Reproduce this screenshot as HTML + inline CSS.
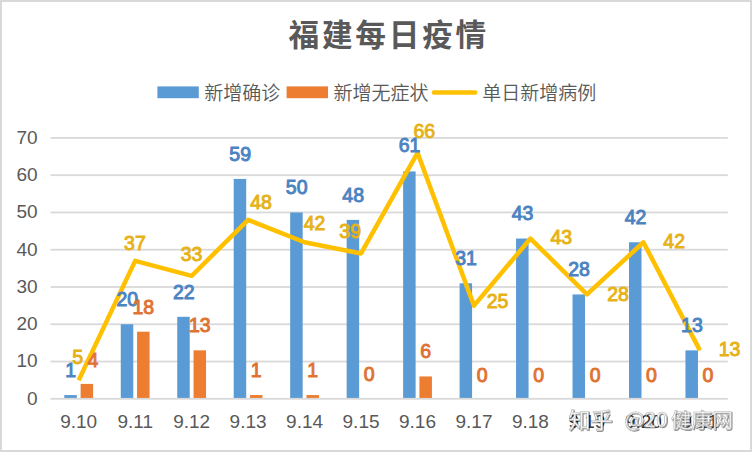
<!DOCTYPE html><html><head><meta charset="utf-8"><style>html,body{margin:0;padding:0;background:#fff}svg{display:block}.t{font-family:"Liberation Sans","Noto Sans CJK SC",sans-serif}</style></head><body>
<svg width="752" height="452" viewBox="0 0 752 452">
<rect x="0" y="0" width="752" height="452" fill="#fff"/>
<rect x="1" y="1" width="750" height="450" fill="none" stroke="#D9D9D9" stroke-width="2"/>
<text class="t" x="288.6" y="45.7" font-size="30.7" letter-spacing="2.7" font-weight="bold" fill="#595959">福建每日疫情</text>
<rect x="157.4" y="86.4" width="41.4" height="11.8" fill="#5B9BD5"/>
<text class="t" x="204.3" y="100.4" font-size="19" font-weight="350" fill="#595959">新增确诊</text>
<rect x="286.6" y="86.4" width="41.4" height="11.8" fill="#ED7D31"/>
<text class="t" x="333.5" y="100.4" font-size="19" font-weight="350" fill="#595959">新增无症状</text>
<line x1="434" y1="92.4" x2="475.2" y2="92.4" stroke="#FFC000" stroke-width="4.5" stroke-linecap="round"/>
<text class="t" x="482.3" y="100.4" font-size="19" font-weight="350" fill="#595959">单日新增病例</text>
<rect x="50.5" y="360.63" width="677.3" height="1.8" fill="#D9D9D9"/>
<rect x="50.5" y="323.36" width="677.3" height="1.8" fill="#D9D9D9"/>
<rect x="50.5" y="286.09" width="677.3" height="1.8" fill="#D9D9D9"/>
<rect x="50.5" y="248.82" width="677.3" height="1.8" fill="#D9D9D9"/>
<rect x="50.5" y="211.55" width="677.3" height="1.8" fill="#D9D9D9"/>
<rect x="50.5" y="174.28" width="677.3" height="1.8" fill="#D9D9D9"/>
<rect x="50.5" y="137.01" width="677.3" height="1.8" fill="#D9D9D9"/>
<text class="t" x="37.6" y="404.70" text-anchor="end" font-size="19" fill="#595959">0</text>
<text class="t" x="37.6" y="367.43" text-anchor="end" font-size="19" fill="#595959">10</text>
<text class="t" x="37.6" y="330.16" text-anchor="end" font-size="19" fill="#595959">20</text>
<text class="t" x="37.6" y="292.89" text-anchor="end" font-size="19" fill="#595959">30</text>
<text class="t" x="37.6" y="255.62" text-anchor="end" font-size="19" fill="#595959">40</text>
<text class="t" x="37.6" y="218.35" text-anchor="end" font-size="19" fill="#595959">50</text>
<text class="t" x="37.6" y="181.08" text-anchor="end" font-size="19" fill="#595959">60</text>
<text class="t" x="37.6" y="143.81" text-anchor="end" font-size="19" fill="#595959">70</text>
<rect x="64.30" y="395.07" width="12.5" height="3.73" fill="#5B9BD5"/>
<rect x="80.60" y="383.89" width="12.5" height="14.91" fill="#ED7D31"/>
<rect x="120.77" y="324.26" width="12.5" height="74.54" fill="#5B9BD5"/>
<rect x="137.07" y="331.71" width="12.5" height="67.09" fill="#ED7D31"/>
<rect x="177.24" y="316.81" width="12.5" height="81.99" fill="#5B9BD5"/>
<rect x="193.54" y="350.35" width="12.5" height="48.45" fill="#ED7D31"/>
<rect x="233.71" y="178.91" width="12.5" height="219.89" fill="#5B9BD5"/>
<rect x="250.01" y="395.07" width="12.5" height="3.73" fill="#ED7D31"/>
<rect x="290.18" y="212.45" width="12.5" height="186.35" fill="#5B9BD5"/>
<rect x="306.48" y="395.07" width="12.5" height="3.73" fill="#ED7D31"/>
<rect x="346.65" y="219.90" width="12.5" height="178.90" fill="#5B9BD5"/>
<rect x="403.12" y="171.45" width="12.5" height="227.35" fill="#5B9BD5"/>
<rect x="419.42" y="376.44" width="12.5" height="22.36" fill="#ED7D31"/>
<rect x="459.59" y="283.26" width="12.5" height="115.54" fill="#5B9BD5"/>
<rect x="516.06" y="238.54" width="12.5" height="160.26" fill="#5B9BD5"/>
<rect x="572.53" y="294.44" width="12.5" height="104.36" fill="#5B9BD5"/>
<rect x="629.00" y="242.27" width="12.5" height="156.53" fill="#5B9BD5"/>
<rect x="685.47" y="350.35" width="12.5" height="48.45" fill="#5B9BD5"/>
<rect x="50.5" y="397.90" width="677.3" height="1.8" fill="#D9D9D9"/>
<text class="t" x="78.70" y="427.6" text-anchor="middle" font-size="19" fill="#595959">9.10</text>
<text class="t" x="135.17" y="427.6" text-anchor="middle" font-size="19" fill="#595959">9.11</text>
<text class="t" x="191.64" y="427.6" text-anchor="middle" font-size="19" fill="#595959">9.12</text>
<text class="t" x="248.11" y="427.6" text-anchor="middle" font-size="19" fill="#595959">9.13</text>
<text class="t" x="304.58" y="427.6" text-anchor="middle" font-size="19" fill="#595959">9.14</text>
<text class="t" x="361.05" y="427.6" text-anchor="middle" font-size="19" fill="#595959">9.15</text>
<text class="t" x="417.52" y="427.6" text-anchor="middle" font-size="19" fill="#595959">9.16</text>
<text class="t" x="473.99" y="427.6" text-anchor="middle" font-size="19" fill="#595959">9.17</text>
<text class="t" x="530.46" y="427.6" text-anchor="middle" font-size="19" fill="#595959">9.18</text>
<text class="t" x="586.93" y="427.6" text-anchor="middle" font-size="19" fill="#3a3a3a">9.19</text>
<text class="t" x="643.40" y="427.6" text-anchor="middle" font-size="19" fill="#3a3a3a">9.20</text>
<text class="t" x="699.87" y="427.6" text-anchor="middle" font-size="19" fill="#3a3a3a">9.21</text>
<polyline points="78.70,380.17 135.17,260.90 191.64,275.81 248.11,219.90 304.58,242.27 361.05,253.45 417.52,152.82 473.99,305.62 530.46,238.54 586.93,294.44 643.40,242.27 699.87,350.35" fill="none" stroke="#FFC000" stroke-width="4.5" stroke-linejoin="round" stroke-linecap="butt"/>
<text class="t" x="70.80" y="376.70" text-anchor="middle" font-size="19.5" fill="#4C83C2" stroke="#4C83C2" stroke-width="0.95">1</text>
<text class="t" x="93.00" y="367.40" text-anchor="middle" font-size="19.5" fill="#DF7333" stroke="#DF7333" stroke-width="0.95">4</text>
<text class="t" x="77.60" y="364.00" text-anchor="middle" font-size="19.5" fill="#E6B218" stroke="#E6B218" stroke-width="0.95">5</text>
<text class="t" x="127.27" y="306.40" text-anchor="middle" font-size="19.5" fill="#4C83C2" stroke="#4C83C2" stroke-width="0.95">20</text>
<text class="t" x="143.32" y="314.00" text-anchor="middle" font-size="19.5" fill="#DF7333" stroke="#DF7333" stroke-width="0.95">18</text>
<text class="t" x="134.90" y="249.90" text-anchor="middle" font-size="19.5" fill="#E6B218" stroke="#E6B218" stroke-width="0.95">37</text>
<text class="t" x="183.74" y="299.20" text-anchor="middle" font-size="19.5" fill="#4C83C2" stroke="#4C83C2" stroke-width="0.95">22</text>
<text class="t" x="199.79" y="332.30" text-anchor="middle" font-size="19.5" fill="#DF7333" stroke="#DF7333" stroke-width="0.95">13</text>
<text class="t" x="191.50" y="260.60" text-anchor="middle" font-size="19.5" fill="#E6B218" stroke="#E6B218" stroke-width="0.95">33</text>
<text class="t" x="240.21" y="160.50" text-anchor="middle" font-size="19.5" fill="#4C83C2" stroke="#4C83C2" stroke-width="0.95">59</text>
<text class="t" x="256.26" y="377.40" text-anchor="middle" font-size="19.5" fill="#DF7333" stroke="#DF7333" stroke-width="0.95">1</text>
<text class="t" x="261.00" y="208.60" text-anchor="middle" font-size="19.5" fill="#E6B218" stroke="#E6B218" stroke-width="0.95">48</text>
<text class="t" x="296.68" y="194.30" text-anchor="middle" font-size="19.5" fill="#4C83C2" stroke="#4C83C2" stroke-width="0.95">50</text>
<text class="t" x="312.73" y="377.40" text-anchor="middle" font-size="19.5" fill="#DF7333" stroke="#DF7333" stroke-width="0.95">1</text>
<text class="t" x="314.60" y="230.40" text-anchor="middle" font-size="19.5" fill="#E6B218" stroke="#E6B218" stroke-width="0.95">42</text>
<text class="t" x="353.15" y="202.30" text-anchor="middle" font-size="19.5" fill="#4C83C2" stroke="#4C83C2" stroke-width="0.95">48</text>
<text class="t" x="369.20" y="381.30" text-anchor="middle" font-size="19.5" fill="#DF7333" stroke="#DF7333" stroke-width="0.95">0</text>
<text class="t" x="350.20" y="237.70" text-anchor="middle" font-size="19.5" fill="#E6B218" stroke="#E6B218" stroke-width="0.95">39</text>
<text class="t" x="409.62" y="152.40" text-anchor="middle" font-size="19.5" fill="#4C83C2" stroke="#4C83C2" stroke-width="0.95">61</text>
<text class="t" x="425.67" y="358.20" text-anchor="middle" font-size="19.5" fill="#DF7333" stroke="#DF7333" stroke-width="0.95">6</text>
<text class="t" x="424.30" y="138.20" text-anchor="middle" font-size="19.5" fill="#E6B218" stroke="#E6B218" stroke-width="0.95">66</text>
<text class="t" x="466.09" y="264.60" text-anchor="middle" font-size="19.5" fill="#4C83C2" stroke="#4C83C2" stroke-width="0.95">31</text>
<text class="t" x="482.14" y="381.60" text-anchor="middle" font-size="19.5" fill="#DF7333" stroke="#DF7333" stroke-width="0.95">0</text>
<text class="t" x="497.50" y="307.60" text-anchor="middle" font-size="19.5" fill="#E6B218" stroke="#E6B218" stroke-width="0.95">25</text>
<text class="t" x="522.56" y="220.10" text-anchor="middle" font-size="19.5" fill="#4C83C2" stroke="#4C83C2" stroke-width="0.95">43</text>
<text class="t" x="538.61" y="381.60" text-anchor="middle" font-size="19.5" fill="#DF7333" stroke="#DF7333" stroke-width="0.95">0</text>
<text class="t" x="561.30" y="244.40" text-anchor="middle" font-size="19.5" fill="#E6B218" stroke="#E6B218" stroke-width="0.95">43</text>
<text class="t" x="579.03" y="275.70" text-anchor="middle" font-size="19.5" fill="#4C83C2" stroke="#4C83C2" stroke-width="0.95">28</text>
<text class="t" x="595.08" y="381.50" text-anchor="middle" font-size="19.5" fill="#DF7333" stroke="#DF7333" stroke-width="0.95">0</text>
<text class="t" x="618.10" y="300.70" text-anchor="middle" font-size="19.5" fill="#E6B218" stroke="#E6B218" stroke-width="0.95">28</text>
<text class="t" x="635.50" y="224.20" text-anchor="middle" font-size="19.5" fill="#4C83C2" stroke="#4C83C2" stroke-width="0.95">42</text>
<text class="t" x="651.55" y="381.50" text-anchor="middle" font-size="19.5" fill="#DF7333" stroke="#DF7333" stroke-width="0.95">0</text>
<text class="t" x="674.20" y="247.80" text-anchor="middle" font-size="19.5" fill="#E6B218" stroke="#E6B218" stroke-width="0.95">42</text>
<text class="t" x="691.97" y="332.00" text-anchor="middle" font-size="19.5" fill="#4C83C2" stroke="#4C83C2" stroke-width="0.95">13</text>
<text class="t" x="708.02" y="381.50" text-anchor="middle" font-size="19.5" fill="#DF7333" stroke="#DF7333" stroke-width="0.95">0</text>
<text class="t" x="729.60" y="355.80" text-anchor="middle" font-size="19.5" fill="#E6B218" stroke="#E6B218" stroke-width="0.95">13</text>
<defs><filter id="sh" x="-10%" y="-30%" width="120%" height="160%"><feDropShadow dx="0.8" dy="0.8" stdDeviation="0.5" flood-color="#000" flood-opacity="0.6"/></filter></defs>
<g fill="#fff" stroke="#b4b4b4" stroke-width="0.6" filter="url(#sh)" font-weight="400">
<text class="t" x="568.5" y="428" font-size="22">知乎</text>
<text x="624.5" y="427" font-family="Noto Sans CJK SC,sans-serif" font-size="21">@20</text>
<text class="t" x="671" y="428" font-size="20.6">健康网</text>
</g>
</svg></body></html>
